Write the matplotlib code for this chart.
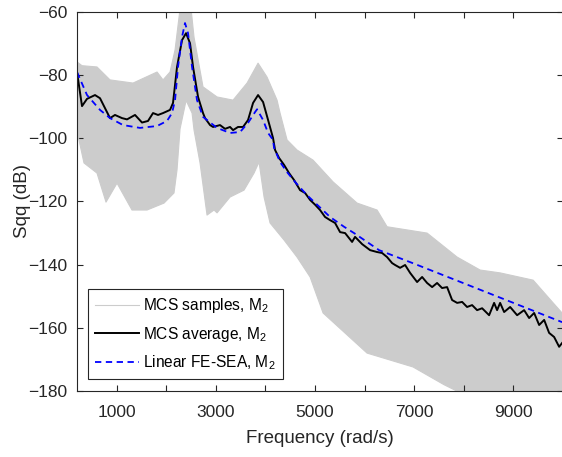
import numpy as np
import matplotlib.pyplot as plt

plt.rcParams['font.family'] = ['Liberation Sans', 'DejaVu Sans']
plt.rcParams['mathtext.fontset'] = 'custom'
plt.rcParams['mathtext.rm'] = 'Liberation Sans'
plt.rcParams['mathtext.it'] = 'Liberation Sans:italic'

# MCS average (black)
avg_f = [200, 301, 402, 563, 664, 866, 966, 1108, 1209, 1370, 1511, 1632, 1733, 1834, 1935,
         2076, 2136, 2217, 2318, 2399, 2479, 2540, 2641, 2741, 2782, 2883, 2943, 3084, 3185,
         3286, 3347, 3447, 3548, 3649, 3750, 3851, 3952, 4053, 4153, 4194, 4274, 4375, 4476,
         4577, 4698, 4799, 4900, 5000, 5101, 5202, 5303, 5404, 5505, 5606, 5747, 5807, 5950,
         6110, 6251, 6352, 6453, 6554, 6614, 6715, 6816, 6917, 7058, 7159, 7260, 7361, 7461,
         7562, 7663, 7764, 7865, 7966, 8066, 8167, 8268, 8369, 8510, 8611, 8671, 8732, 8813,
         8934, 9075, 9216, 9317, 9418, 9519, 9620, 9720, 9821, 9922, 9982]
avg_db = [-79, -89.8, -87.5, -86.3, -87.3, -93.6, -92.6, -93.6, -94, -92.6, -95, -94.5, -92, -92.6, -92,
          -91, -88.8, -77.4, -68.9, -66.7, -69.9, -77.4, -86.9, -92, -93.6, -95.8, -96.4, -95.8, -97,
          -96.4, -97.4, -96.4, -96.4, -94.2, -88.8, -86.3, -88.5, -94.2, -99.9, -103.7, -106.2, -108.4, -111,
          -113.2, -116.4, -117.3, -119.5, -121, -122.7, -124.9, -125.9, -126.8, -129.7, -130, -132.8, -131.2, -133.5,
          -135.4, -136, -136.3, -137.6, -139.5, -140.1, -141, -140.1, -142.6, -145.5, -143.9, -145.8, -147.1, -145.8,
          -147.4, -147.1, -151.2, -152.1, -151.8, -153.4, -152.8, -154.4, -153.8, -156, -152.1, -154.4, -152.1, -155,
          -153.4, -156, -154.4, -156.9, -155.3, -159.1, -157.5, -161.6, -162.9, -166, -164.8]

# Linear FE-SEA (blue dashed)
sea_f = [200, 402, 664, 866, 1128, 1471, 1814, 2015, 2116, 2177, 2237, 2318, 2378, 2439, 2520,
         2620, 2741, 3024, 3286, 3488, 3649, 3790, 3831, 3952, 4053, 4153, 4173, 4295, 4436,
         4597, 4839, 5041, 5303, 5585, 5787, 6291, 7000, 8000, 9000, 9982]
sea_db = [-79, -86.3, -91, -93.6, -95.8, -96.7, -96.1, -94.5, -92, -87.9, -77.4, -67.9, -63.5, -66.7, -77.4,
          -87.9, -93.2, -96.7, -98.3, -98, -95.1, -91.7, -90.8, -94.2, -98.3, -100.5, -103, -107.5, -110.7,
          -113.8, -118, -121, -124.9, -128, -130, -135.4, -139.7, -145.9, -152.1, -158.2]

# MCS samples: upper and lower edge of the sample cloud
up_f = [200, 301, 603, 866, 1330, 1814, 1935, 2076, 2177, 2278, 2500, 2560, 2741, 3024, 3347,
        3629, 3851, 4032, 4234, 4295, 4436, 4637, 4960, 5364, 5848, 6251, 6453, 6856, 7260,
        7865, 8329, 8732, 9398, 9801, 9982]
up_db = [-75.8, -77, -77.4, -81.5, -82.5, -79, -81.5, -79, -72, -59, -59, -68, -83.7, -86.9, -87.9,
         -82.5, -76.2, -80.6, -87.9, -92, -100.5, -103.7, -106.9, -113.8, -120.5, -122.7, -128, -129, -130,
         -137.6, -141.7, -142.6, -144.9, -152.1, -155.3]
lo_f = [200, 240, 341, 603, 785, 1007, 1309, 1612, 1955, 2156, 2217, 2278, 2400, 2520, 2560,
        2681, 2822, 2963, 3024, 3286, 3568, 3770, 3871, 3972, 4093, 4375, 4637, 4900, 5162,
        6049, 6977, 7600, 7986, 9982]
lo_db = [-98, -100.5, -107.8, -111, -120.2, -114.2, -122.7, -122.7, -120.5, -117.3, -110, -97, -88, -92, -97.4,
         -107.8, -124.3, -122.7, -123.6, -118.6, -116.4, -111, -107.5, -118.6, -126.8, -132.2, -137.6, -143.9, -155.3,
         -168, -172.4, -178, -181, -181]

xtick_vals = [1000, 2000, 3000, 4000, 5000, 6000, 7000, 8000, 9000]
xtick_text = ['1000', '', '3000', '', '5000', '', '7000', '', '9000']
ytick_vals = [-180, -160, -140, -120, -100, -80, -60]

fig = plt.figure(figsize=(5.62, 4.57), dpi=100)
ax = fig.add_axes([77/562, 66/457, 486/562, 379/457])

edge = '#262626'
band = '#cccccc'

# sample cloud
ax.fill(up_f + lo_f[::-1], up_db + lo_db[::-1], color=band, lw=0)
ax.plot(up_f, up_db, color=band, lw=0.8)
ax.plot(lo_f, lo_db, color=band, lw=0.8)
ax.plot([], [], color=band, lw=0.8, label='MCS samples, M$_2$')

ax.plot(avg_f, avg_db, color='black', lw=1.4, label='MCS average, M$_2$')
ax.plot(sea_f, sea_db, color='#0000ff', lw=1.3, ls=(0, (3.5, 2.5)), label='Linear FE-SEA, M$_2$')

ax.set_xlim(200, 10000)
ax.set_ylim(-180, -60)
ax.set_xticks(xtick_vals)
ax.set_xticklabels(xtick_text)
ax.set_yticks(ytick_vals)
ax.tick_params(direction='in', length=4, width=0.8, colors=edge, labelsize=12.5,
               top=True, right=True)
ax.tick_params(axis='x', pad=10)
ax.tick_params(axis='y', pad=7)
for s in ax.spines.values():
    s.set_color(edge)
    s.set_linewidth(0.8)

ax.set_xlabel('Frequency (rad/s)', fontsize=13.5, color=edge, labelpad=7)
ax.set_ylabel('Sqq (dB)', fontsize=13.5, color=edge, labelpad=-2)

leg = ax.legend(loc='lower left', bbox_to_anchor=(0.0226, 0.0317), borderaxespad=0,
                fontsize=11.2, fancybox=False, edgecolor=edge, framealpha=1,
                handlelength=2.8, labelspacing=0.62, borderpad=0.45, handletextpad=0.3)
leg.get_frame().set_linewidth(0.8)

fig.savefig('out.png', dpi=100)
